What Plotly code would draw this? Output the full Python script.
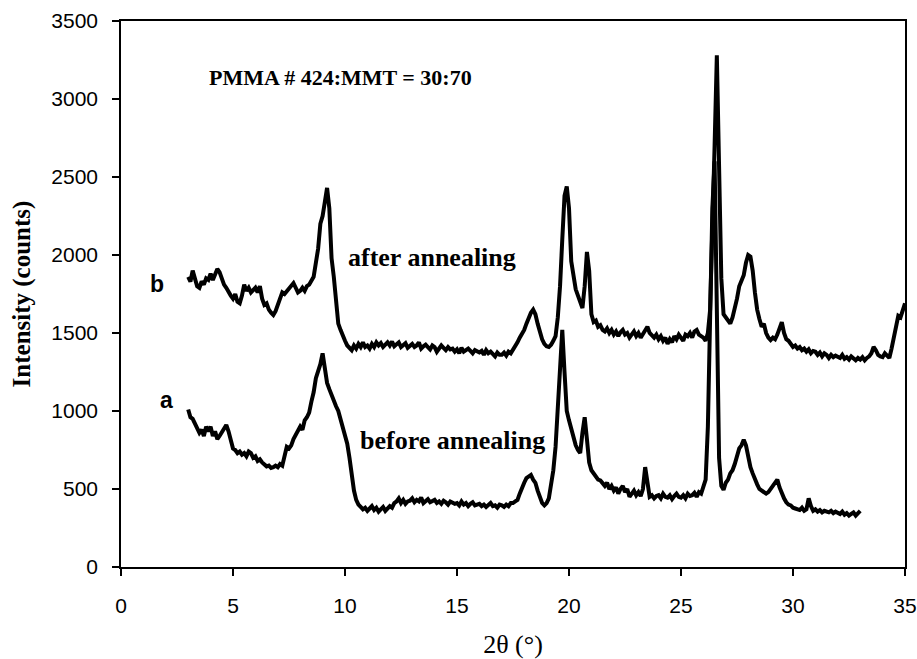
import numpy as np
import plotly.graph_objects as go

# 2-theta grids (degrees)
two_theta_after = np.round(np.arange(3.0, 35.0001, 0.1), 1)
two_theta_before = np.round(np.arange(3.0, 33.0001, 0.1), 1)

# curve b: after annealing (counts), one row per degree
intensity_after = [
    1860, 1830, 1900, 1850, 1800, 1790, 1830, 1810, 1850, 1840,
    1880, 1840, 1870, 1910, 1890, 1850, 1810, 1790, 1760, 1740,
    1720, 1750, 1700, 1690, 1740, 1810, 1770, 1790, 1760, 1780,
    1790, 1760, 1800, 1720, 1680, 1690, 1650, 1630, 1615, 1640,
    1680, 1720, 1760, 1750, 1770, 1780, 1800, 1820, 1790, 1760,
    1770, 1790, 1770, 1800, 1810, 1840, 1860, 1950, 2040, 2200,
    2250, 2340, 2430, 2300, 1980, 1860, 1700, 1560, 1520, 1480,
    1450, 1420, 1400, 1390, 1420, 1400, 1430, 1410, 1440, 1410,
    1420, 1400, 1430, 1410, 1440, 1420, 1435, 1410, 1425, 1440,
    1420, 1445, 1415, 1430, 1440, 1410, 1425, 1435, 1405, 1420,
    1430, 1410, 1420, 1440, 1400, 1415, 1425, 1410, 1395, 1420,
    1410, 1380, 1400, 1420, 1405, 1390, 1410, 1395, 1400, 1380,
    1395, 1370, 1405, 1380, 1390, 1400, 1385, 1370, 1390, 1380,
    1375, 1385, 1360, 1390, 1370, 1380, 1365, 1350, 1375, 1360,
    1360, 1375, 1355, 1380, 1370, 1390, 1420, 1440, 1470, 1490,
    1520, 1560, 1600, 1630, 1650, 1620, 1560, 1500, 1460, 1430,
    1415, 1410, 1425, 1450, 1480, 1600, 1800, 2100, 2380, 2440,
    2300, 1960, 1850, 1780, 1740, 1700, 1660, 1800, 2020, 1900,
    1620, 1570, 1580, 1540, 1550, 1520, 1510, 1530, 1500, 1520,
    1490, 1510, 1480, 1505, 1520, 1490, 1500, 1470, 1495, 1510,
    1480, 1500, 1470, 1490, 1510, 1540, 1500, 1480, 1470, 1490,
    1460, 1480, 1450, 1470, 1430, 1460, 1440, 1480, 1460, 1490,
    1470, 1450, 1490, 1480, 1500, 1470, 1510, 1520, 1490, 1480,
    1470, 1450, 1500, 1650, 2100, 2700, 3280, 2500, 1850, 1620,
    1600, 1570, 1560, 1600, 1650, 1720, 1800, 1830, 1870, 1950,
    2000, 1990, 1900, 1760, 1650, 1590, 1540, 1560, 1500, 1470,
    1455, 1470, 1460, 1490, 1530, 1570, 1500, 1460, 1450, 1430,
    1410, 1420, 1400, 1410, 1390, 1400, 1380, 1395, 1370, 1385,
    1380, 1360, 1375, 1350, 1370, 1360, 1340, 1360, 1345, 1355,
    1350, 1340, 1360, 1335, 1345, 1330, 1350, 1340, 1325, 1340,
    1330, 1345, 1325, 1340, 1350, 1370, 1410, 1390, 1360, 1350,
    1345, 1370, 1355, 1340, 1400, 1480, 1560, 1610, 1600, 1650,
    1690,
]

# curve a: before annealing (counts)
intensity_before = [
    1010, 960, 950, 920, 900, 860, 880, 840, 900, 870,
    900, 840, 870, 820, 840, 860, 890, 910, 870, 800,
    760, 750, 730, 740, 720, 730, 710, 740, 730, 700,
    710, 680, 690, 670, 660, 645, 650, 635, 640, 650,
    640, 660, 650, 700, 770, 760, 780, 820, 850, 870,
    900, 880, 940, 960, 990, 1060, 1120, 1210, 1250, 1300,
    1370, 1250, 1180, 1140, 1100, 1060, 1030, 1000, 950, 880,
    830, 790, 700, 580, 490, 430, 400, 385, 370, 380,
    360, 375, 390, 365, 380, 355, 370, 385, 360, 375,
    390, 380, 410, 420, 440, 410, 430, 405, 420, 425,
    440, 415, 430, 420, 445, 410, 425, 435, 415, 420,
    430, 410, 420, 405, 425, 415, 400, 420, 410, 405,
    410, 395, 420, 400, 410, 390, 405, 415, 395, 400,
    405, 390, 400, 385, 400, 410, 390, 395, 380, 400,
    395, 385, 400, 390, 410, 410, 420, 430, 470, 510,
    540, 570, 580, 590, 560, 540, 490, 440, 410, 395,
    410, 440, 520, 620, 770, 1000, 1320, 1520, 1250, 1000,
    940, 880, 830, 780, 750, 730, 860, 960, 820, 670,
    620, 600, 580, 560, 555, 540, 520, 540, 500, 520,
    490, 510, 470, 500, 520, 480, 500, 450, 470, 490,
    460, 480, 455, 500, 640, 520, 450, 460, 440, 455,
    460, 440, 470, 450, 445, 460, 435, 455, 470, 450,
    445, 460, 440, 470, 455, 460, 475, 450, 480, 470,
    520, 560, 900, 1500, 2300, 2600, 1800, 700, 520, 495,
    540, 560, 600, 620, 660, 720, 760, 780, 815, 780,
    700, 640, 600, 560, 530, 500, 490, 475, 470, 480,
    500, 520, 540, 560, 510, 470, 440, 415, 400, 395,
    380, 375, 370, 365, 380, 360, 370, 440, 390, 360,
    370, 355, 365, 350, 360, 355, 350, 360, 345, 355,
    350, 340, 355, 335, 345, 330, 340, 350, 330, 345,
    360,
]

x_ticks = [0, 5, 10, 15, 20, 25, 30, 35]
y_ticks = [0, 500, 1000, 1500, 2000, 2500, 3000, 3500]

title_text = "PMMA # 424:MMT = 30:70"
label_after = "after annealing"
label_before = "before annealing"

fig = go.Figure()
fig.add_trace(go.Scatter(x=two_theta_after, y=intensity_after, mode="lines",
                         line=dict(color="black", width=4), name="b",
                         showlegend=False))
fig.add_trace(go.Scatter(x=two_theta_before, y=intensity_before, mode="lines",
                         line=dict(color="black", width=4), name="a",
                         showlegend=False))

serif_bold = dict(family="Liberation Serif", color="black")
ann = [
    dict(x=9.78, y=3141, text="<b>" + title_text + "</b>", font=dict(size=22, **serif_bold)),
    dict(x=13.9, y=1987, text="<b>" + label_after + "</b>", font=dict(size=26, **serif_bold)),
    dict(x=14.8, y=814, text="<b>" + label_before + "</b>", font=dict(size=26, **serif_bold)),
    dict(x=1.6, y=1814, text="<b>b</b>", font=dict(size=23, family="Liberation Sans", color="black")),
    dict(x=2.05, y=1070, text="<b>a</b>", font=dict(size=23, family="Liberation Sans", color="black")),
]
for a in ann:
    fig.add_annotation(xref="x", yref="y", showarrow=False, **a)

fig.update_layout(
    width=917, height=659,
    margin=dict(l=121, r=12, t=21, b=92),
    paper_bgcolor="white", plot_bgcolor="white",
    font=dict(family="Liberation Sans", color="black"),
)
fig.update_xaxes(
    range=[0, 35], tickvals=x_ticks, ticks="outside", ticklen=7, tickwidth=1.5,
    tickcolor="black", showline=True, linecolor="black", linewidth=1.5, mirror=True,
    showgrid=False, zeroline=False, tickfont=dict(size=21, family="Liberation Sans"),
    ticklabelstandoff=12, automargin=False,
    title=dict(text="2θ (°)", font=dict(size=26, family="Liberation Serif"), standoff=20),
)
fig.update_yaxes(
    range=[0, 3500], tickvals=y_ticks, ticks="outside", ticklen=7, tickwidth=1.5,
    tickcolor="black", showline=True, linecolor="black", linewidth=1.5, mirror=True,
    showgrid=False, zeroline=False, tickfont=dict(size=21, family="Liberation Sans"),
    ticklabelstandoff=10, automargin=False,
    title=dict(text="<b>Intensity (counts)</b>", font=dict(size=25, family="Liberation Serif"), standoff=14),
)

fig.write_html(
    "out.html",
    config={"displayModeBar": False},
    post_script="document.body.style.margin='0px';document.body.style.overflow='hidden';",
)
